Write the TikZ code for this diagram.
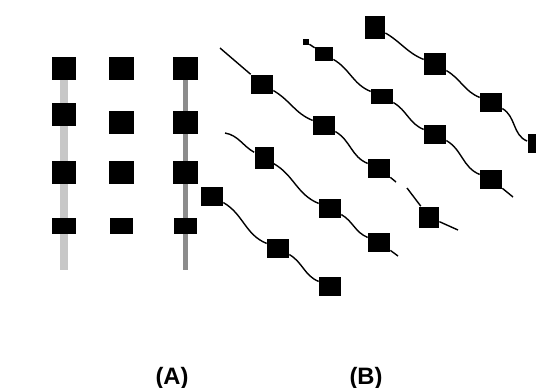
\documentclass[tikz,border=0pt]{standalone}
\usepackage{fontspec}
\setmainfont{Liberation Sans}
\usepackage{tikz}

\begin{document}
\begin{tikzpicture}[
    x=0.02cm, y=-0.02cm,
    sq/.style={fill=black, inner sep=0pt, minimum width=5mm, minimum height=4.6mm},
    sqlow/.style={sq, minimum height=3.2mm},
    bsq/.style={fill=black, inner sep=0pt, minimum width=4.4mm, minimum height=3.8mm},
    dot/.style={fill=black, inner sep=0pt, minimum size=1.2mm},
    rail/.style={line width=1.6mm, black!22},
    railb/.style={line width=1mm, black!45},
    wire/.style={line width=0.8pt, black},
    wave/.style={out=-30,in=158},
    lbl/.style={font=\fontsize{13.5}{15}\selectfont\bfseries, anchor=base}]
  \useasboundingbox (0,0) rectangle (536,387);

  % (A): grid with two rails
  \coordinate (r1t) at (64,80);  \coordinate (r1b) at (64,270);
  \coordinate (r3t) at (185,80); \coordinate (r3b) at (185,270);
  \draw[rail] (r1t) -- (r1b);
  \draw[railb] (r3t) -- (r3b);
  \node[sq] (a11) at (64,68) {};  \node[sq] (a12) at (121,68) {};  \node[sq] (a13) at (185,68) {};
  \node[sq] (a21) at (64,114) {}; \node[sq] (a22) at (121,122) {}; \node[sq] (a23) at (185,122) {};
  \node[sq] (a31) at (64,172) {}; \node[sq] (a32) at (121,172) {}; \node[sq] (a33) at (185,172) {};
  \node[sqlow] (a41) at (64,226) {}; \node[sqlow, minimum width=4.6mm] (a42) at (121,226) {};
  \node[sqlow, minimum width=4.6mm] (a43) at (185,226) {};

  % (B): the same squares strung on wavy wires
  \coordinate (c1s) at (220,48);
  \node[bsq] (c1a) at (262,84) {};
  \node[bsq] (c1b) at (324,125) {};
  \node[bsq] (c1c) at (379,168) {};
  \coordinate (c1e) at (396,182);

  \node[dot] (c2s) at (306,42) {};
  \node[bsq, minimum height=2.8mm, minimum width=3.6mm] (c2a) at (324,54) {};
  \node[bsq, minimum height=3mm] (c2b) at (382,96) {};
  \node[bsq] (c2c) at (435,134) {};
  \node[bsq] (c2d) at (491,179) {};
  \coordinate (c2e) at (513,197);

  \node[bsq, minimum width=4mm, minimum height=4.6mm] (c3a) at (375,27) {};
  \node[bsq, minimum height=4.4mm] (c3b) at (435,64) {};
  \node[bsq] (c3c) at (491,102) {};
  \node[bsq, minimum width=1.8mm] (c3d) at (532,143) {};

  \coordinate (c4s) at (225,133);
  \node[bsq, minimum width=3.8mm, minimum height=4.4mm] (c4a) at (264,158) {};
  \node[bsq] (c4b) at (330,208) {};
  \node[bsq] (c4c) at (379,242) {};
  \coordinate (c4e) at (398,256);

  \node[bsq] (c5a) at (212,196) {};
  \node[bsq] (c5b) at (278,248) {};
  \node[bsq] (c5c) at (330,286) {};

  \coordinate (c6s) at (407,188);
  \node[bsq, minimum width=4mm, minimum height=4.2mm] (c6a) at (429,217) {};
  \coordinate (c6e) at (458,230);

  \draw[wire] (c1s) -- (c1a) to[wave] (c1b) to[wave] (c1c) -- (c1e);
  \draw[wire] (c2s) -- (c2a) to[wave] (c2b) to[wave] (c2c) to[wave] (c2d) -- (c2e);
  \draw[wire] (c3a) to[wave] (c3b) to[wave] (c3c) to[wave] (c3d);
  \draw[wire] (c4s) to[out=-10,in=150] (c4a) to[wave] (c4b) to[wave] (c4c) -- (c4e);
  \draw[wire] (c5a) to[wave] (c5b) to[wave] (c5c);
  \draw[wire] (c6s) -- (c6a) -- (c6e);

  % labels
  \node[lbl] (labA) at (172,384) {(A)};
  \node[lbl] (labB) at (366,384) {(B)};
\end{tikzpicture}
\end{document}
